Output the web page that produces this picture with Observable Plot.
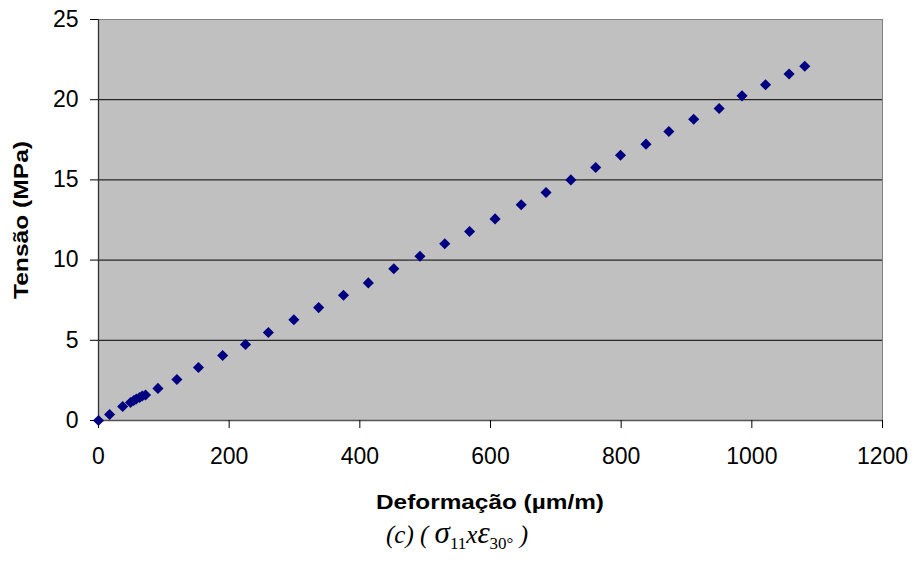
<!DOCTYPE html>
<html>
<head>
<meta charset="utf-8">
<script src="https://cdn.jsdelivr.net/npm/d3@7"></script>
<script src="https://cdn.jsdelivr.net/npm/@observablehq/plot@0.6"></script>
<style>
  html, body { margin: 0; padding: 0; background: #fff; }
  #wrap { position: relative; width: 914px; height: 562px; }
  #cap { position: absolute; left: 0; top: 515px; width: 914px; text-align: center;
         font-family: "Liberation Serif", "Times New Roman", serif; font-size: 25px; font-style: italic; color: #000; }
  #cap .g { font-size: 31px; }
  #cap sub { font-style: normal; font-size: 17px; vertical-align: -6px; }
</style>
</head>
<body>
<div id="wrap">
  <div id="chart"></div>
  <div id="cap">(c) ( <span class="g">σ</span><sub>11</sub>x<span class="g">ε</span><sub>30°</sub> )</div>
</div>
<script>
const strain = [0, 17, 37, 49, 54, 58, 63, 67, 72, 91, 120, 153, 190, 225, 260, 299, 337, 375, 413, 452, 492, 530, 568, 607, 647, 685, 723, 761, 799, 838, 873, 911, 950, 985, 1021, 1057, 1081];
const stress = [0, 0.37, 0.87, 1.12, 1.25, 1.34, 1.43, 1.53, 1.59, 2.0, 2.56, 3.3, 4.05, 4.74, 5.49, 6.28, 7.04, 7.81, 8.58, 9.46, 10.24, 11.02, 11.78, 12.57, 13.45, 14.21, 15.0, 15.77, 16.54, 17.23, 18.02, 18.78, 19.45, 20.24, 20.93, 21.6, 22.09];
const xTicks = [0, 200, 400, 600, 800, 1000, 1200];
const yTicks = [0, 5, 10, 15, 20, 25];
const gridY = [5, 10, 15, 20];
const xTitle = "Deformação (µm/m)";
const yTitle = "Tensão (MPa)";

const data = strain.map((s, i) => ({strain: s, stress: stress[i]}));

const chart = Plot.plot({
  width: 914,
  height: 520,
  marginLeft: 98,
  marginRight: 32,
  marginTop: 19,
  marginBottom: 100,
  style: {fontFamily: "'Liberation Sans', Arial, sans-serif", fontSize: "22px", color: "#000", background: "#fff", overflow: "visible"},
  x: {domain: [0, 1200], label: null},
  y: {domain: [0, 25], label: null},
  marks: [
    Plot.frame({fill: "#c0c0c0", stroke: "#808080"}),
    Plot.ruleY(gridY, {stroke: "#000", strokeWidth: 1}),
    Plot.ruleX([0], {stroke: "#333", strokeWidth: 1.3}),
    Plot.ruleY([0], {stroke: "#555", strokeWidth: 1.3}),
    Plot.axisX({ticks: xTicks, tickSize: 8, tickPadding: 19, stroke: "#000", fontSize: 23, tickFormat: d3.format("d"), label: null}),
    Plot.axisY({ticks: yTicks, tickSize: 8, tickPadding: 12, stroke: "#000", fontSize: 23, tickFormat: d3.format("d"), label: null}),
    Plot.dot(data, {x: "strain", y: "stress", symbol: "diamond2", r: 5, fill: "#000080", stroke: "none"})
  ]
});
document.getElementById("chart").appendChild(chart);

const svg = d3.select(chart);
svg.append("text")
  .attr("x", 490).attr("y", 509)
  .attr("text-anchor", "middle")
  .attr("font-family", "'Liberation Sans', Arial, sans-serif")
  .attr("font-weight", "bold").attr("font-size", 20.5)
  .attr("textLength", 228).attr("lengthAdjust", "spacingAndGlyphs")
  .attr("fill", "#000")
  .text(xTitle);
svg.append("text")
  .attr("transform", "translate(28,220) rotate(-90)")
  .attr("text-anchor", "middle")
  .attr("font-family", "'Liberation Sans', Arial, sans-serif")
  .attr("font-weight", "bold").attr("font-size", 20.5)
  .attr("textLength", 158).attr("lengthAdjust", "spacingAndGlyphs")
  .attr("fill", "#000")
  .text(yTitle);
</script>
</body>
</html>
